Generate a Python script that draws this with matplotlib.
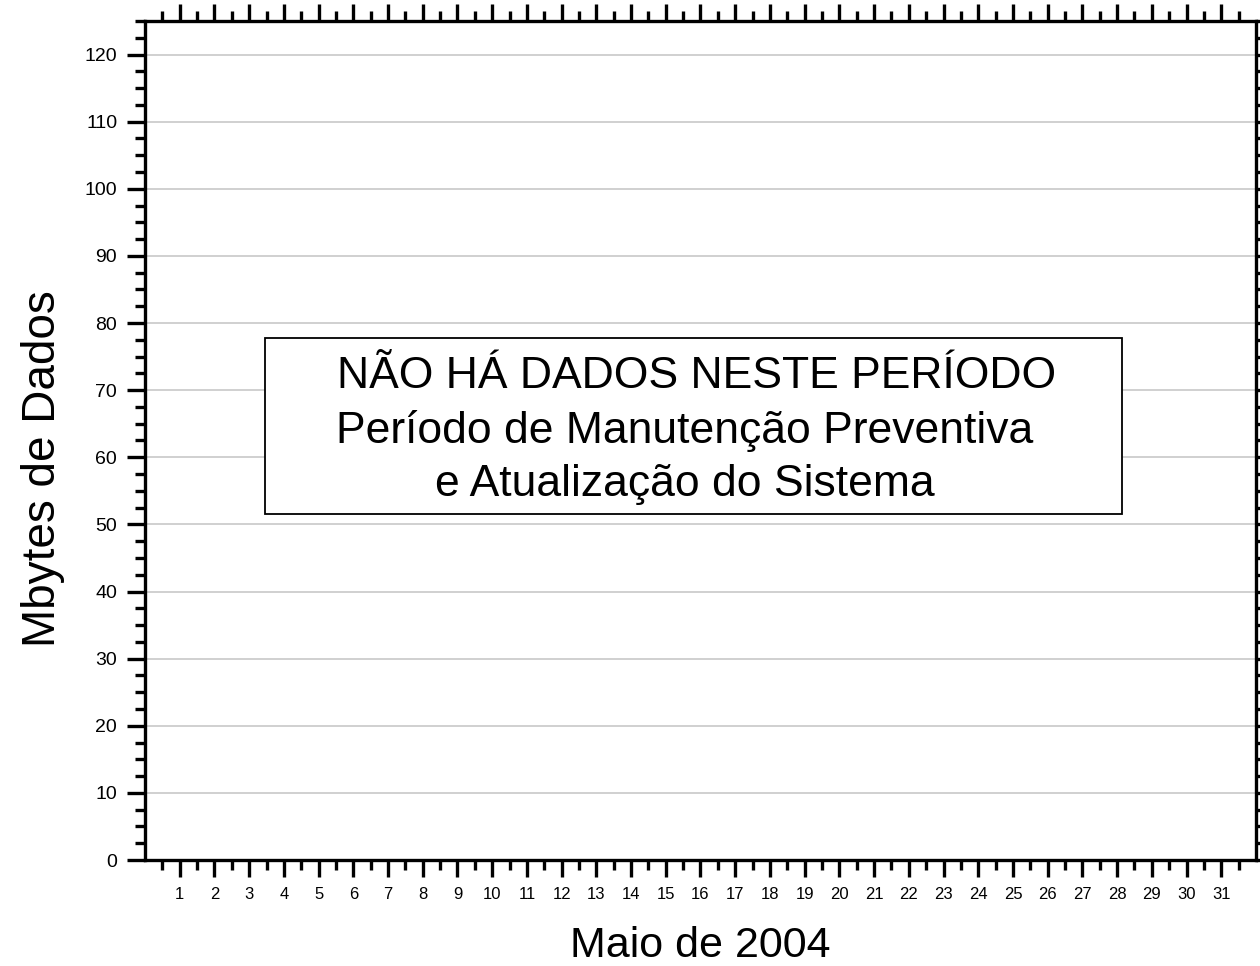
import matplotlib
matplotlib.use("Agg")
import matplotlib.pyplot as plt
from matplotlib.patches import Rectangle
import numpy as np

plt.rcParams['font.family'] = ['Liberation Sans', 'DejaVu Sans']

days = list(range(1, 32))
day_labels = [str(d) for d in days]
y_major = [0, 10, 20, 30, 40, 50, 60, 70, 80, 90, 100, 110, 120]
x_limits = (0, 32)
y_limits = (0, 125)
message = "NÃO HÁ DADOS NESTE PERÍODO\nPeríodo de Manutenção Preventiva  \ne Atualização do Sistema  "
x_title = "Maio de 2004"
y_title = "Mbytes de Dados"

fig = plt.figure(figsize=(12.6, 9.66), dpi=100)
ax = fig.add_axes([0.1151, 0.1097, 0.9968 - 0.1151, 0.9783 - 0.1097])
ax.set_xlim(*x_limits)
ax.set_ylim(*y_limits)

ax.set_xticks(days)
ax.set_xticklabels(day_labels, fontsize=12)
ax.set_xticks(np.arange(0.5, 32, 1.0), minor=True)
ax.set_yticks(y_major)
ax.set_yticklabels([str(v) for v in y_major], fontsize=14)
ax.set_yticks(np.arange(0, 125.1, 2.5), minor=True)

ax.grid(axis='y', which='major', color='#c4c4c4', linewidth=1.1)
ax.set_axisbelow(True)

for s in ax.spines.values():
    s.set_linewidth(2.4)
    s.set_zorder(5)

ax.tick_params(axis='both', which='both', direction='out', width=2.4,
               top=True, right=True, labeltop=False, labelright=False)
ax.tick_params(axis='x', which='major', length=12.5, pad=7)
ax.tick_params(axis='x', which='minor', length=7)
ax.tick_params(axis='y', which='major', length=13, pad=7)
ax.tick_params(axis='y', which='minor', length=7)

ax.set_xlabel(x_title, fontsize=31)
ax.set_ylabel(y_title, fontsize=33)
ax.xaxis.set_label_coords(0.5, -0.079)
ax.yaxis.set_label_coords(-0.072, 0.467)

rect = Rectangle((3.45, 51.6), 28.15 - 3.45, 77.8 - 51.6, fill=True,
                 facecolor='white', edgecolor='black', linewidth=1.3, zorder=3)
ax.add_patch(rect)
ax.text(15.90, (51.6 + 77.8) / 2 - 0.7, message, ha='center', va='center',
        fontsize=32, multialignment='center', linespacing=1.38, zorder=4)

fig.savefig("out.png", dpi=100, facecolor='white')
